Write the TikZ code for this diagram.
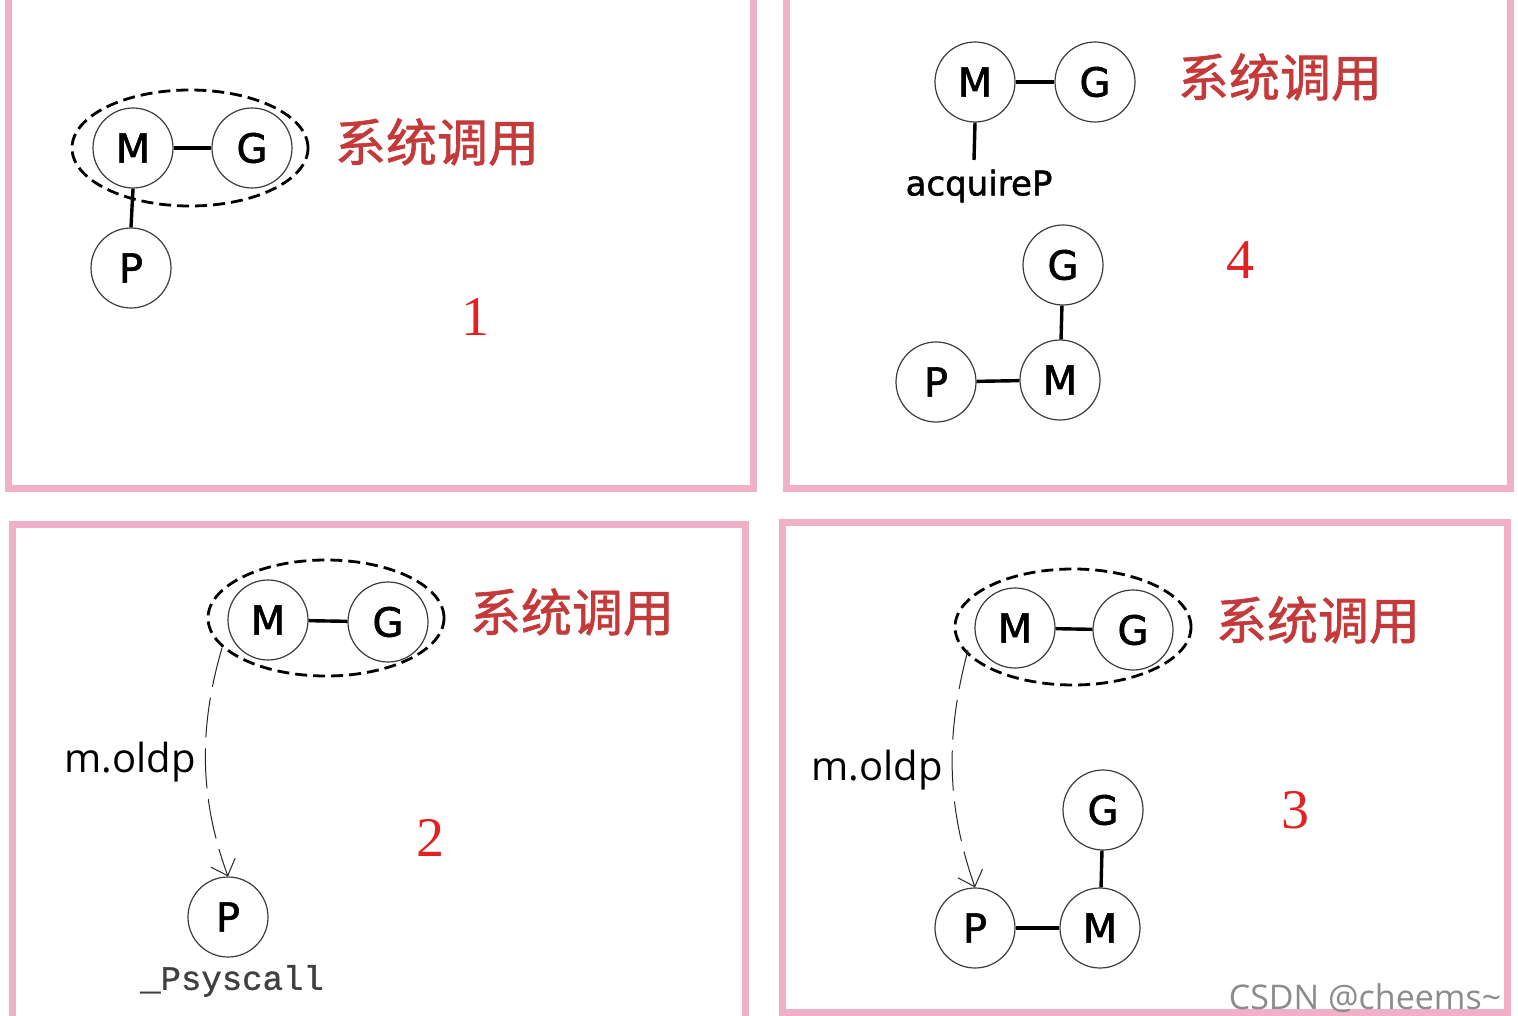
\documentclass[tikz,border=0pt]{standalone}
\usepackage{fontspec}
\setmainfont{Liberation Serif}
\newfontfamily\cjkfont[FakeBold=1.2]{Noto Sans CJK SC}
\newfontfamily\letterfont[FakeBold=1.5]{DejaVu Sans}
\newfontfamily\labelfont{Open Sans}
\newfontfamily\monofont[FakeBold=1]{Liberation Mono}
\usetikzlibrary{arrows.meta,shapes.geometric}
\definecolor{framepink}{RGB}{240,176,200}
\definecolor{cjkred}{RGB}{196,58,58}
\definecolor{numred}{RGB}{226,34,34}
\definecolor{circgray}{RGB}{60,60,60}
\tikzset{
  panel/.style={draw=framepink,line width=7pt},
  gnode/.style={circle,draw=circgray,line width=1.2pt,minimum size=80pt,inner sep=0pt,font=\letterfont\fontsize{40}{40}\selectfont},
  link/.style={line width=3.4pt,black},
  group/.style={ellipse,draw=black,dashed,dash pattern=on 12pt off 6pt,line width=2.8pt,minimum width=236pt,minimum height=116pt,inner sep=0pt},
  syscall/.style={text=cjkred,font=\cjkfont\fontsize{51}{51}\selectfont,inner sep=0pt},
  numlabel/.style={text=numred,font=\fontsize{56}{56}\selectfont,inner sep=0pt},
  oldarrow/.style={line width=1pt,black!85,dash pattern=on 40pt off 11pt,-{Straight Barb[length=14pt,width=26pt,line width=1pt]}},
  oldlabel/.style={font=\labelfont\fontsize{40}{40}\selectfont,inner sep=0pt},
}
\begin{document}
\begin{tikzpicture}[x=1pt,y=-1pt]
\useasboundingbox (0,0) rectangle (1518,1016);
\fill[white] (0,0) rectangle (1518,1016);
% frames
\draw[panel] (8.5,-5) rectangle (753.5,488.5);
\draw[panel] (786,-5) rectangle (1510.5,488.5);
\draw[panel] (12,524) rectangle (745,1030);
\draw[panel] (782.5,522) rectangle (1507,1012.5);

% ---------------- Panel 1 ----------------
\node[group] (E1) at (190,148) {};
\node[gnode] (M1) at (133,148) {M};
\node[gnode] (G1) at (252,148) {G};
\node[gnode] (P1) at (131,268) {P};
\draw[link] (M1) -- (G1);
\draw[link] (M1.south) -- (P1.north);
\node[syscall] (S1) at (437,142) {系统调用};
\node[numlabel] (N1) at (475,317) {1};

% ---------------- Panel 4 ----------------
\node[gnode] (M4a) at (975,82) {M};
\node[gnode] (G4a) at (1095,82) {G};
\draw[link] (M4a) -- (G4a);
\coordinate (A4) at (974,160);
\draw[link] (M4a.south) -- (A4);
\node[font=\letterfont\fontsize{34}{34}\selectfont,inner sep=0pt] (AQ) at (979,186) {acquireP};
\node[syscall] (S4) at (1280,77) {系统调用};
\node[gnode] (G4b) at (1063,265) {G};
\node[gnode] (M4b) at (1060,380) {M};
\node[gnode] (P4b) at (936,382) {P};
\draw[link] (G4b) -- (M4b);
\draw[link] (P4b) -- (M4b);
\node[numlabel] (N4) at (1240,260) {4};

% ---------------- Panel 2 ----------------
\node[group] (E2) at (326,618) {};
\node[gnode] (M2) at (268,620) {M};
\node[gnode] (G2) at (388,622) {G};
\draw[link] (M2) -- (G2);
\node[syscall] (S2) at (572,612) {系统调用};
\node[gnode] (P2) at (228,917) {P};
\coordinate (T2) at (222,648);
\draw[oldarrow] (T2) .. controls (198,730) and (200,800) .. (P2.north);
\node[oldlabel] (L2) at (130,762) {m.oldp};
\node[font=\monofont\fontsize{34}{34}\selectfont,text=black!75,inner sep=0pt] (PS) at (232,981) {\_Psyscall};
\node[numlabel] (N2) at (430,838) {2};

% ---------------- Panel 3 ----------------
\node[group] (E3) at (1073,627) {};
\node[gnode] (M3a) at (1015,628) {M};
\node[gnode] (G3a) at (1133,630) {G};
\draw[link] (M3a) -- (G3a);
\node[syscall] (S3) at (1318,620) {系统调用};
\node[gnode] (G3b) at (1103,810) {G};
\node[gnode] (M3b) at (1100,928) {M};
\node[gnode] (P3b) at (975,928) {P};
\draw[link] (G3b) -- (M3b);
\draw[link] (P3b) -- (M3b);
\coordinate (T3) at (968,650);
\draw[oldarrow] (T3) .. controls (944,740) and (948,810) .. (P3b.north);
\node[oldlabel] (L3) at (877,770) {m.oldp};
\node[numlabel] (N3) at (1295,810) {3};
\node[font=\labelfont\fontsize{34}{34}\selectfont,text=black!45,inner sep=0pt] (WM) at (1365,998) {CSDN @cheems\textasciitilde};
\end{tikzpicture}
\end{document}
